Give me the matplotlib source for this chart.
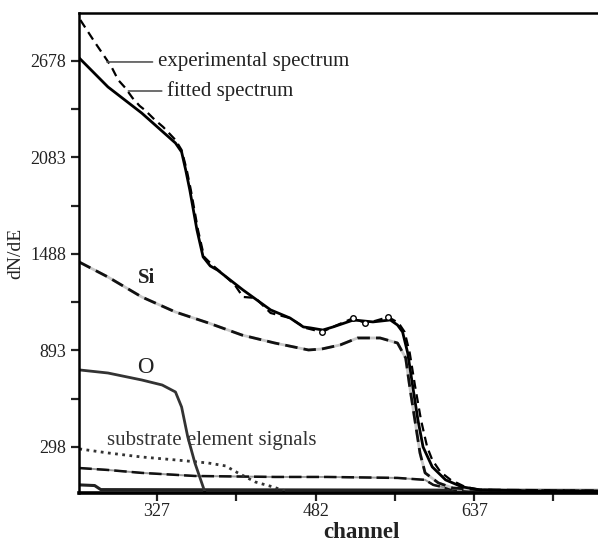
import matplotlib
matplotlib.use("Agg")
import matplotlib.pyplot as plt

# ---- data ----
fit_x = [251, 279, 312, 345, 351, 355, 359, 366, 372, 379, 386, 411, 438, 457, 470, 477, 489, 499, 519, 538, 555, 562, 567, 572, 577, 582, 587, 596, 609, 625, 643, 700, 758]
fit_y = [2696, 2518, 2357, 2172, 2117, 2006, 1883, 1636, 1470, 1414, 1389, 1266, 1143, 1093, 1038, 1032, 1019, 1038, 1081, 1069, 1081, 1050, 1007, 877, 668, 464, 298, 175, 95, 52, 33, 27, 25]

exp_x = [252, 266, 278, 283, 289, 296, 303, 310, 315, 325, 333, 345, 351, 356, 360, 367, 373, 381, 389, 403, 411, 423, 438, 457, 472, 488, 501, 519, 530, 540, 553, 563, 569, 574, 579, 585, 591, 596, 604, 614, 628, 643, 758]
exp_y = [2931, 2795, 2684, 2635, 2561, 2512, 2450, 2401, 2376, 2314, 2271, 2191, 2129, 2006, 1883, 1636, 1470, 1420, 1377, 1297, 1223, 1217, 1124, 1093, 1032, 1007, 1044, 1093, 1063, 1075, 1099, 1063, 1007, 877, 680, 464, 298, 218, 144, 95, 52, 33, 27]
exp_circles = [25, 27, 28, 30]

si_x = [251, 279, 312, 345, 377, 410, 442, 475, 488, 506, 523, 545, 562, 570, 574, 579, 584, 589, 602, 616, 643, 758]
si_y = [1438, 1346, 1223, 1130, 1063, 988, 939, 896, 902, 927, 970, 970, 939, 847, 668, 464, 261, 138, 76, 45, 33, 27]

o_x = [251, 279, 312, 332, 345, 351, 357, 364, 372, 374]
o_y = [773, 754, 711, 680, 637, 544, 360, 199, 52, 14]

sub_dot_x = [251, 279, 312, 345, 377, 394, 406, 423, 440, 452]
sub_dot_y = [286, 261, 236, 218, 199, 181, 138, 82, 52, 27]

sub_dash_x = [251, 279, 312, 364, 442, 493, 562, 589, 597, 618, 758]
sub_dash_y = [168, 156, 138, 119, 113, 113, 107, 95, 64, 33, 27]

sub_low_x = [251, 266, 272, 758]
sub_low_y = [64, 60, 35, 30]

x_ticks = [327, 404.5, 482, 559.5, 637, 714.5]
x_labels = ["327", "", "482", "", "637", ""]
y_ticks = [298, 595.5, 893, 1190.5, 1488, 1785.5, 2083, 2380.5, 2678]
y_labels = ["298", "", "893", "", "1488", "", "2083", "", "2678"]

plt.rcParams['font.family'] = ['Liberation Serif', 'DejaVu Serif']

fig = plt.figure(figsize=(5.98, 5.45), dpi=100)
ax = fig.add_axes([79/598, 1-493/545, 519/598, 480/545])
ax.set_xlim(250.7, 758)
ax.set_ylim(14, 2974)

# substrate signals
ax.plot(sub_low_x, sub_low_y, color='#222', lw=2.2, solid_capstyle='butt')
ax.plot(sub_dash_x, sub_dash_y, color='#999', lw=1.4)
ax.plot(sub_dash_x, sub_dash_y, color='#111', lw=1.8, linestyle=(0, (5, 2)))
ax.plot(sub_dot_x, sub_dot_y, color='#333', lw=2.0, linestyle=(0, (1, 1.6)))

# O
ax.plot(o_x, o_y, color='#333', lw=2.0)

# Si
ax.plot(si_x, si_y, color='#c8c8c8', lw=2.0)
ax.plot(si_x, si_y, color='#111', lw=2.0, linestyle=(0, (4.5, 2.2)))

# fitted
ax.plot(fit_x, fit_y, color='black', lw=2.0)
# experimental
ax.plot(exp_x, exp_y, color='black', lw=1.6, linestyle=(0, (4, 2.5)),
        marker='o', markersize=4, markerfacecolor='white', markeredgecolor='black',
        markeredgewidth=1.0, markevery=exp_circles)

# annotations
ax.annotate("experimental spectrum", xy=(278, 2672), xytext=(328, 2672),
            fontsize=15, color='#222', va='center', ha='left',
            arrowprops=dict(arrowstyle='-', color='#555', lw=1.2, shrinkA=2, shrinkB=0))
ax.annotate("fitted spectrum", xy=(299, 2493), xytext=(337, 2493),
            fontsize=15, color='#222', va='center', ha='left',
            arrowprops=dict(arrowstyle='-', color='#555', lw=1.2, shrinkA=2, shrinkB=0))
ax.text(278, 335, "substrate element signals", fontsize=15, color='#333', va='center', ha='left')
ax.text(317, 1340, "Si", fontsize=15, color='#222', va='center', ha='center', fontweight='bold')
ax.text(316, 790, "O", fontsize=16.5, color='#222', va='center', ha='center')

# axes style
ax.spines['right'].set_visible(False)
for s in ['left', 'top']:
    ax.spines[s].set_linewidth(1.8)
ax.spines['bottom'].set_linewidth(2.6)
ax.set_xticks(x_ticks)
ax.set_xticklabels(x_labels)
ax.set_yticks(y_ticks)
ax.set_yticklabels(y_labels)
ax.tick_params(axis='both', direction='out', length=6, width=1.6, labelsize=13, colors='#222')
ax.tick_params(axis='x', pad=1.5)
ax.set_xlabel("channel", fontsize=16.5, fontweight='bold', color='#222')
ax.xaxis.set_label_coords(0.545, -0.060)
ax.set_ylabel("dN/dE", fontsize=14, color='#222', labelpad=4)

fig.savefig("out.png", dpi=100)
